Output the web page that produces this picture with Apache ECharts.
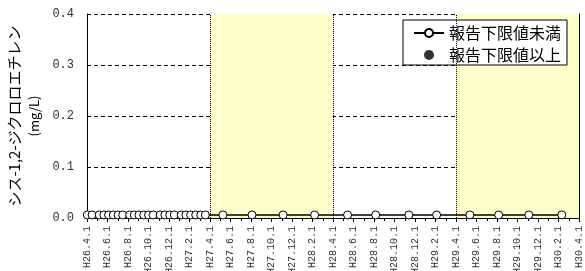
<!DOCTYPE html>
<html>
<head>
<meta charset="utf-8">
<script src="https://cdn.jsdelivr.net/npm/echarts@6/dist/echarts.min.js"></script>
<style>
  html, body { margin: 0; padding: 0; background: #fff; }
  #myChart { width: 585px; height: 271px; }
</style>
</head>
<body>
<div id="myChart"></div>
<script>
// 採水日（報告下限値未満）
const belowDates = [
  "2014-04-02", "2014-04-16", "2014-05-07", "2014-05-21", "2014-06-04", "2014-06-18",
  "2014-07-02", "2014-07-16", "2014-08-06", "2014-08-20", "2014-09-03", "2014-09-17",
  "2014-10-01", "2014-10-15", "2014-11-05", "2014-11-19", "2014-12-03", "2014-12-17",
  "2015-01-07", "2015-01-21", "2015-02-04", "2015-02-18", "2015-03-04", "2015-03-18",
  "2015-05-09", "2015-08-04", "2015-11-05", "2016-02-07",
  "2016-05-14", "2016-08-06", "2016-11-13", "2017-02-04",
  "2017-05-12", "2017-08-06", "2017-11-04", "2018-02-10"
];
const belowValues = [
  0.006, 0.006, 0.006, 0.006, 0.006, 0.006, 0.006, 0.006, 0.006, 0.006, 0.006, 0.006,
  0.006, 0.006, 0.006, 0.006, 0.006, 0.006, 0.006, 0.006, 0.006, 0.006, 0.006, 0.006,
  0.006, 0.006, 0.006, 0.006, 0.006, 0.006, 0.006, 0.006, 0.006, 0.006, 0.006, 0.006
];
// 報告下限値以上（なし）
const aboveDates = [];
const aboveValues = [];

// x軸目盛ラベル（2か月ごと）
const xTickLabels = [
  "H26.4.1", "H26.6.1", "H26.8.1", "H26.10.1", "H26.12.1", "H27.2.1",
  "H27.4.1", "H27.6.1", "H27.8.1", "H27.10.1", "H27.12.1", "H28.2.1",
  "H28.4.1", "H28.6.1", "H28.8.1", "H28.10.1", "H28.12.1", "H29.2.1",
  "H29.4.1", "H29.6.1", "H29.8.1", "H29.10.1", "H29.12.1", "H30.2.1",
  "H30.4.1"
];
// 黄色の期間（H26.4.1からの月数）
const shadeRanges = [[12, 24], [36, 48]];
const yearLines = [12, 24, 36];

// 日付 -> H26.4.1 からの月数
function toMonth(s) {
  const [y, m, d] = s.split("-").map(Number);
  const days = new Date(y, m, 0).getDate();
  return (y - 2014) * 12 + (m - 4) + (d - 1) / days;
}

let myChart = echarts.init(document.getElementById("myChart"));
myChart.setOption({
  animation: false,
  grid: {
    left: 87,
    right: 6,
    top: 14,
    bottom: 53,
    containLabel: false,
    outerBoundsMode: "none",
  },
  legend: {
    orient: "vertical",
    left: 403,
    top: 20,
    padding: [5, 6, 2, 10],
    itemGap: 6,
    itemWidth: 30,
    itemHeight: 10,
    backgroundColor: "#fff",
    borderColor: "#000",
    borderWidth: 1,
    data: ["報告下限値未満", "報告下限値以上"],
    textStyle: {
      fontFamily: "Noto Sans CJK JP",
      fontSize: 16,
      lineHeight: 16,
      color: "#000",
    },
  },
  xAxis: {
    type: "value",
    min: 0,
    max: 48,
    interval: 2,
    axisLine: { lineStyle: { color: "#000", width: 1 } },
    axisTick: { length: 4, lineStyle: { color: "#000" } },
    minorTick: { show: true, splitNumber: 2, length: 3, lineStyle: { color: "#000" } },
    splitLine: { show: false },
    axisLabel: {
      rotate: 90,
      margin: 8,
      fontFamily: "Liberation Mono",
      fontSize: 10,
      color: "#333",
      formatter: (v) => xTickLabels[Math.round(v / 2)],
    },
  },
  yAxis: [
    {
      type: "value",
      min: 0,
      max: 0.4,
      interval: 0.1,
      name: "{a|シス-1,2-ジクロロエチレン}\n{b|(mg/L)}",
      nameLocation: "middle",
      nameRotate: 90,
      nameGap: 44,
      nameTextStyle: {
        rich: {
          a: { fontFamily: "Noto Sans CJK JP", fontSize: 15, color: "#000", lineHeight: 22 },
          b: { fontFamily: "Noto Sans CJK JP", fontSize: 13, color: "#000", lineHeight: 18 },
        },
      },
      axisLine: { show: true, lineStyle: { color: "#000", width: 1 } },
      axisTick: { show: false },
      splitLine: { lineStyle: { color: "#000", type: [4, 3], width: 1 } },
      axisLabel: {
        margin: 13,
        fontFamily: "Liberation Mono",
        fontSize: 12,
        color: "#333",
        formatter: (v) => v.toFixed(1),
      },
    },
    {
      type: "value",
      min: 0,
      max: 0.4,
      interval: 0.1,
      position: "right",
      axisLine: { show: true, lineStyle: { color: "#000", width: 1 } },
      axisTick: { show: false },
      axisLabel: { show: false },
      splitLine: { show: false },
    },
  ],
  series: [
    {
      name: "期間",
      type: "line",
      data: [],
      z: -1,
      silent: true,
      markArea: {
        silent: true,
        itemStyle: { color: "#ffffcc" },
        data: shadeRanges.map((r) => [{ xAxis: r[0] }, { xAxis: r[1] }]),
      },
    },
    {
      name: "報告下限値未満",
      type: "line",
      data: belowDates.map((d, i) => [toMonth(d), belowValues[i]]),
      symbol: "circle",
      symbolSize: 8,
      showAllSymbol: true,
      lineStyle: { color: "#000", width: 1.5 },
      itemStyle: { color: "#fff", borderColor: "#000", borderWidth: 1 },
      markLine: {
        silent: true,
        symbol: "none",
        label: { show: false },
        lineStyle: { color: "#000", type: "dotted", width: 1 },
        data: yearLines.map((x) => ({ xAxis: x })),
      },
    },
    {
      name: "報告下限値以上",
      type: "scatter",
      data: aboveDates.map((d, i) => [toMonth(d), aboveValues[i]]),
      symbol: "circle",
      symbolSize: 8,
      itemStyle: { color: "#000" },
    },
  ],
});
</script>
</body>
</html>
